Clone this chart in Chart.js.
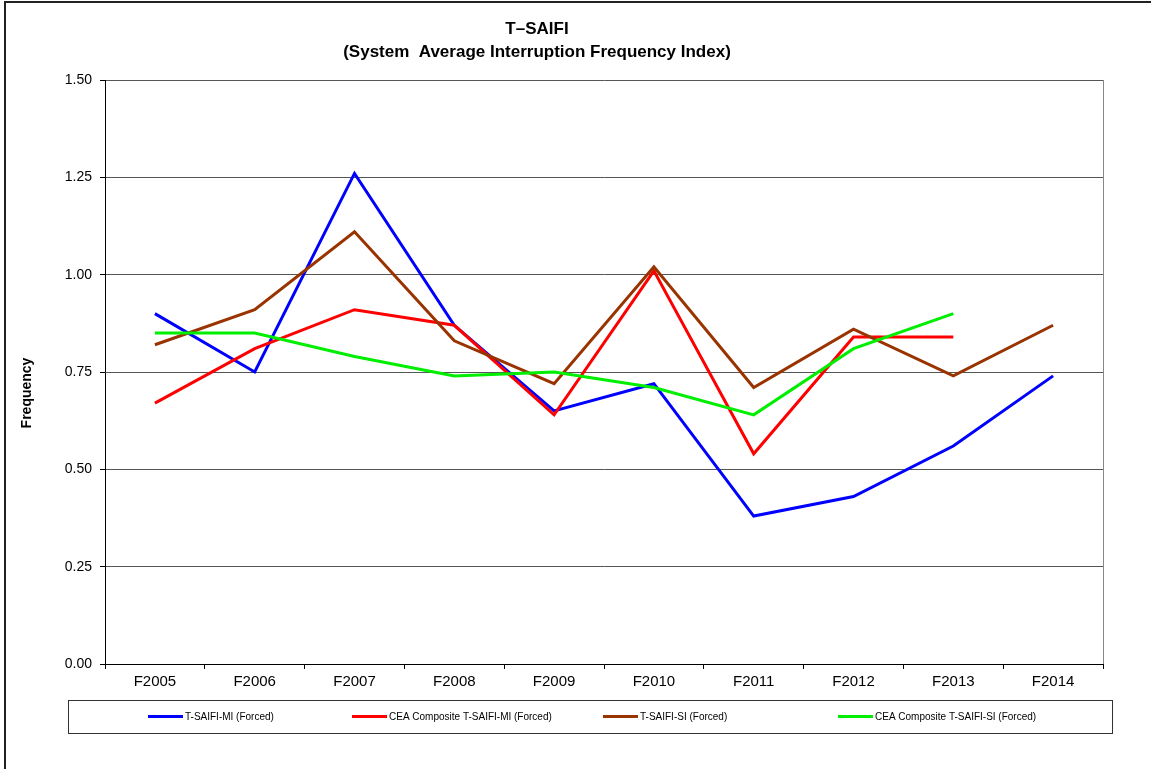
<!DOCTYPE html>
<html>
<head>
<meta charset="utf-8">
<script src="https://cdn.jsdelivr.net/npm/chart.js@4"></script>
<style>
  body { margin: 0; background: #fff; }
  canvas { display: block; }
</style>
</head>
<body>
<canvas id="myChart" width="1151" height="769"></canvas>
<script>
const years = ["F2005", "F2006", "F2007", "F2008", "F2009", "F2010", "F2011", "F2012", "F2013", "F2014"];
const tsaifiMI = [0.90, 0.75, 1.26, 0.87, 0.65, 0.72, 0.38, 0.43, 0.56, 0.74];
const ceaMI = [0.67, 0.81, 0.91, 0.87, 0.64, 1.01, 0.54, 0.84, 0.84, null];
const tsaifiSI = [0.82, 0.91, 1.11, 0.83, 0.72, 1.02, 0.71, 0.86, 0.74, 0.87];
const ceaSI = [0.85, 0.85, 0.79, 0.74, 0.75, 0.71, 0.64, 0.81, 0.90, null];
const titleLines = ["T\u2013SAIFI", "(System  Average Interruption Frequency Index)"];
const yTitle = "Frequency";

const FONT = "'Liberation Sans', Arial, sans-serif";

// frame, title, y title, right border and the boxed legend are painted by hand
const decor = {
  id: "decor",
  afterDraw(chart) {
    const c = chart.ctx;
    const a = chart.chartArea;
    c.save();
    c.strokeStyle = "#222";
    c.lineWidth = 2;
    c.beginPath();
    c.moveTo(5, 769);
    c.lineTo(5, 2);
    c.lineTo(1151, 2);
    c.stroke();

    // right edge of plot area
    c.strokeStyle = "#888";
    c.lineWidth = 1;
    c.beginPath();
    c.moveTo(Math.round(a.right) + 0.5, a.top);
    c.lineTo(Math.round(a.right) + 0.5, a.bottom);
    c.stroke();

    c.fillStyle = "#000";
    c.textAlign = "center";
    c.textBaseline = "middle";
    c.font = "bold 17px " + FONT;
    c.fillText(titleLines[0], 537, 29);
    c.fillText(titleLines[1], 537, 52);

    c.save();
    c.translate(27, 393);
    c.rotate(-Math.PI / 2);
    c.font = "bold 14px " + FONT;
    c.fillText(yTitle, 0, 0);
    c.restore();

    // legend box
    c.strokeStyle = "#333";
    c.lineWidth = 1;
    c.strokeRect(68.5, 700.5, 1044, 33);
    const xs = [148, 352, 603, 838];
    c.font = "10px " + FONT;
    c.textAlign = "left";
    chart.data.datasets.forEach((ds, i) => {
      c.strokeStyle = ds.borderColor;
      c.lineWidth = 3;
      c.beginPath();
      c.moveTo(xs[i], 716.5);
      c.lineTo(xs[i] + 35, 716.5);
      c.stroke();
      c.fillStyle = "#000";
      c.fillText(ds.label, xs[i] + 37, 717);
    });
    c.restore();
  },
};

var ctx = document.getElementById("myChart").getContext("2d");
var chart = new Chart(ctx, {
  type: "line",
  data: {
    labels: years,
    datasets: [
      { label: "T-SAIFI-MI (Forced)", data: tsaifiMI, borderColor: "#0000ff", order: 4 },
      { label: "CEA Composite T-SAIFI-MI (Forced)", data: ceaMI, borderColor: "#ff0000", order: 3 },
      { label: "T-SAIFI-SI (Forced)", data: tsaifiSI, borderColor: "#993300", order: 2 },
      { label: "CEA Composite T-SAIFI-SI (Forced)", data: ceaSI, borderColor: "#00ee00", order: 1 },
    ],
  },
  options: {
    responsive: false,
    animation: false,
    devicePixelRatio: 1,
    elements: {
      line: { borderWidth: 3, tension: 0, fill: false },
      point: { radius: 0, hoverRadius: 0 },
    },
    layout: { padding: { left: 10, right: 48, top: 80, bottom: 75 } },
    plugins: {
      legend: { display: false },
      title: { display: false },
      tooltip: { enabled: false },
    },
    scales: {
      x: {
        offset: true,
        grid: {
          offset: true,
          drawOnChartArea: false,
          tickColor: "#000",
          tickLength: 5,
        },
        border: { color: "#000", width: 1 },
        ticks: { color: "#000", font: { family: FONT, size: 15 }, padding: 4, maxRotation: 0 },
        afterFit: (s) => { s.height = 30; },
      },
      y: {
        min: 0,
        max: 1.5,
        grid: { color: "#555", tickColor: "#000", tickLength: 5 },
        border: { color: "#000", width: 1 },
        ticks: {
          stepSize: 0.25,
          color: "#000",
          padding: 8,
          font: { family: FONT, size: 14 },
          callback: (v) => v.toFixed(2),
        },
        afterFit: (s) => { s.width = 95; },
      },
    },
  },
  plugins: [decor],
});
</script>
</body>
</html>
